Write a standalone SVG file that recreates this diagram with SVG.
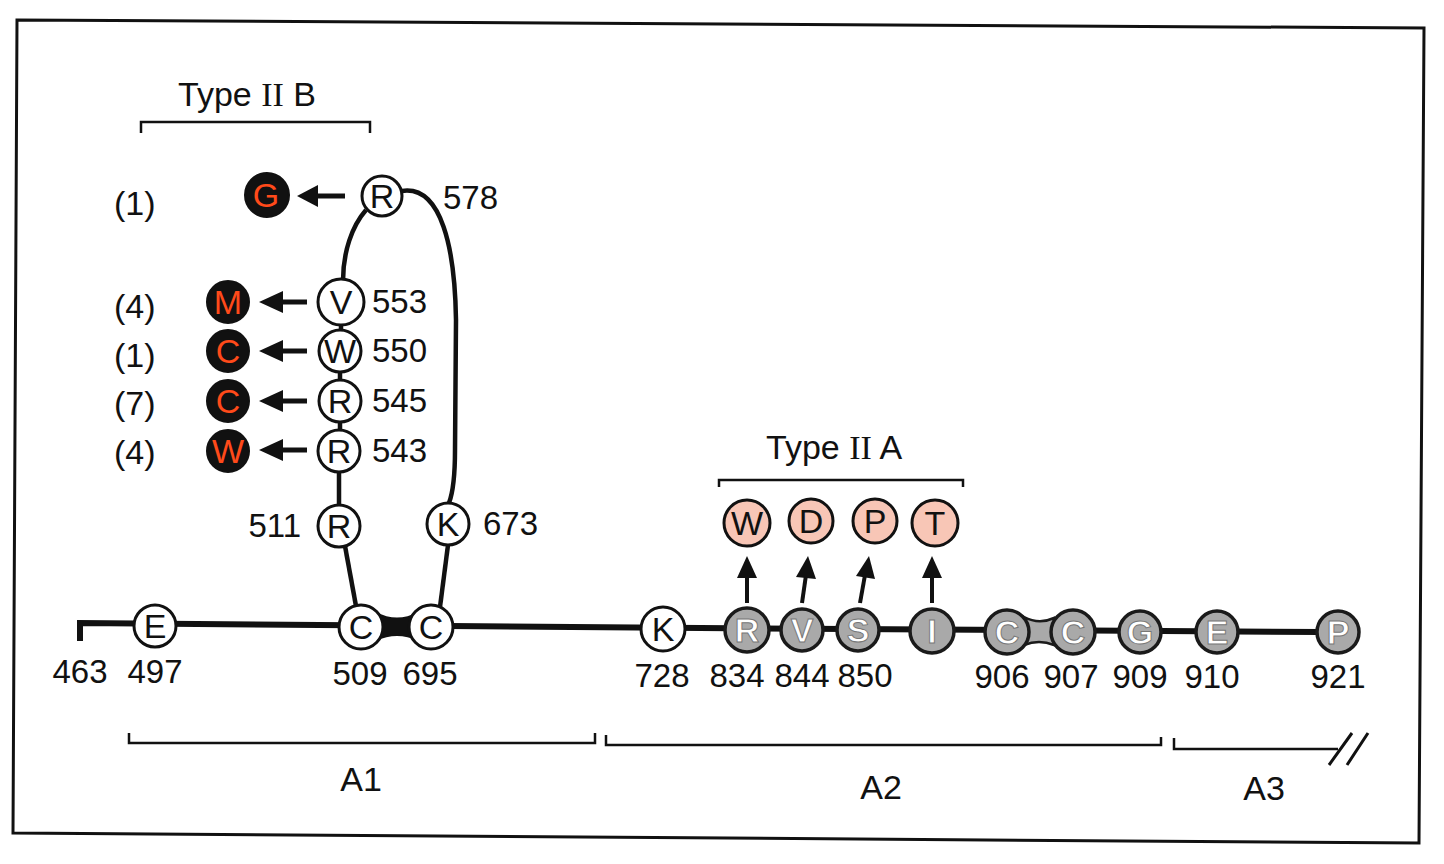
<svg xmlns="http://www.w3.org/2000/svg" width="1444" height="864" viewBox="0 0 1444 864">
<defs>
<style>
text{font-family:"Liberation Sans",Arial,sans-serif;fill:#111}
.lbl{font-size:34px}
.num{font-size:33px}
.let{font-size:34px;text-anchor:middle}
.ttl{font-size:34px}
.ser{font-family:"Liberation Serif","Times New Roman",serif}
.wc{fill:#fff;stroke:#111;stroke-width:3}
.bc{fill:#111;stroke:#111;stroke-width:2}
.gc{fill:#a9a9a9;stroke:#1a1a1a;stroke-width:3.5}
.pc{fill:#f8c6b6;stroke:#111;stroke-width:3}
.orange{fill:#ff4a1a}
.white{fill:#fff;stroke:#777;stroke-width:1;font-weight:bold}
.br{fill:none;stroke:#111;stroke-width:2.5}
.ln{fill:none;stroke:#111;stroke-width:4.5}
.arr{stroke:#111;stroke-width:5}
</style>
</defs>
<rect width="1444" height="864" fill="#fff"/>
<polygon points="17,20 1424,28 1419,843 13,833" fill="none" stroke="#111" stroke-width="3"/>

<g id="typeIIB">
<text class="ttl" x="178" y="106">Type <tspan class="ser">II</tspan> B</text>
<path class="br" d="M141,133 V122 H370 V133"/>
</g>
<g id="typeIIA">
<text class="ttl" x="766" y="459">Type <tspan class="ser">II</tspan> A</text>
<path class="br" d="M719,487 V480 H963 V487"/>
</g>

<g id="connectors">
<polyline fill="none" stroke="#111" stroke-width="6" points="80,641 80,623 450,626 700,628 1320,632"/>
<path class="ln" d="M343,281 C343,252 352,226 366,210"/>
<path class="ln" d="M402,191 C442,185 455,250 456,320 L455,450 C455,480 452,495 449,503"/>
<path class="ln" d="M341,324 L341,331 M340,372 L340,380 M340,422 L340,430 M339,472 L339,504"/>
<path class="ln" d="M345,546 L356,606"/>
<path class="ln" d="M448,545 L440,607"/>
<path d="M376,612 Q397,623 418,612 L418,641 Q397,631 376,641 Z" fill="#111"/>
<path d="M1024,617 Q1039,625 1054,618 L1054,645 Q1039,639 1024,645 Z" fill="#a9a9a9" stroke="#1a1a1a" stroke-width="2.5"/>
<g class="arr">
<line x1="345" y1="196" x2="313" y2="196"/>
<line x1="307" y1="302" x2="283" y2="302"/>
<line x1="307" y1="351" x2="283" y2="351"/>
<line x1="307" y1="401" x2="283" y2="401"/>
<line x1="307" y1="450" x2="283" y2="450"/>
</g>
<g fill="#111">
<polygon points="297,196 318,185 318,207"/>
<polygon points="259,302 283,291 283,313"/>
<polygon points="259,351 283,340 283,362"/>
<polygon points="259,401 283,390 283,412"/>
<polygon points="259,450 283,439 283,461"/>
</g>
<g class="arr" style="stroke-width:4">
<line x1="747" y1="603" x2="747" y2="575"/>
<line x1="802" y1="603" x2="806" y2="575"/>
<line x1="860" y1="603" x2="865" y2="575"/>
<line x1="932" y1="603" x2="932" y2="575"/>
</g>
<g fill="#111">
<polygon points="747,556 737,578 757,578"/>
<polygon points="808,556 796,577 816,579"/>
<polygon points="869,556 856,576 875,579"/>
<polygon points="932,556 922,578 942,578"/>
</g>
<path class="br" d="M129,733 V743 H595 V733"/>
<path class="br" d="M606,735 V745 H1161 V737"/>
<path class="br" d="M1174,738 V749 H1338"/>
<path class="br" d="M1329,765 L1352,733 M1347,765 L1368,733" style="stroke-width:3"/>
</g>

<g id="counts" class="lbl">
<text x="114" y="215">(1)</text>
<text x="114" y="318">(4)</text>
<text x="114" y="367">(1)</text>
<text x="114" y="415">(7)</text>
<text x="114" y="464">(4)</text>
</g>

<g id="n-R578"><circle class="wc" cx="382" cy="196" r="20"/><text class="let" x="382" y="208">R</text><text class="num" x="443" y="209">578</text></g>
<g id="n-V553"><circle class="wc" cx="341" cy="302" r="23"/><text class="let" x="341" y="314">V</text><text class="num" x="372" y="313">553</text></g>
<g id="n-W550"><circle class="wc" cx="340" cy="351" r="21"/><text class="let" x="340" y="363">W</text><text class="num" x="372" y="362">550</text></g>
<g id="n-R545"><circle class="wc" cx="340" cy="401" r="21"/><text class="let" x="340" y="413">R</text><text class="num" x="372" y="412">545</text></g>
<g id="n-R543"><circle class="wc" cx="339" cy="451" r="21"/><text class="let" x="339" y="463">R</text><text class="num" x="372" y="462">543</text></g>
<g id="n-R511"><circle class="wc" cx="339" cy="526" r="21"/><text class="let" x="339" y="538">R</text><text class="num" x="301" y="537" text-anchor="end">511</text></g>
<g id="n-K673"><circle class="wc" cx="448" cy="524" r="21"/><text class="let" x="448" y="536">K</text><text class="num" x="483" y="535">673</text></g>

<g id="m-G"><circle class="bc" cx="267" cy="195" r="22"/><text class="let orange" x="266" y="207">G</text></g>
<g id="m-M"><circle class="bc" cx="228" cy="302" r="21"/><text class="let orange" x="228" y="314">M</text></g>
<g id="m-C1"><circle class="bc" cx="228" cy="351" r="21"/><text class="let orange" x="228" y="363">C</text></g>
<g id="m-C2"><circle class="bc" cx="228" cy="401" r="21"/><text class="let orange" x="228" y="413">C</text></g>
<g id="m-W"><circle class="bc" cx="228" cy="451" r="21"/><text class="let orange" x="228" y="463">W</text></g>

<g id="l-463"><text class="num" x="80" y="683" text-anchor="middle">463</text></g>
<g id="n-E497"><circle class="wc" cx="155" cy="626" r="21"/><text class="let" x="155" y="638">E</text><text class="num" x="155" y="683" text-anchor="middle">497</text></g>
<g id="n-C509"><circle class="wc" cx="361" cy="627" r="22"/><text class="let" x="361" y="639">C</text><text class="num" x="360" y="685" text-anchor="middle">509</text></g>
<g id="n-C695"><circle class="wc" cx="431" cy="627" r="22"/><text class="let" x="431" y="639">C</text><text class="num" x="430" y="685" text-anchor="middle">695</text></g>
<g id="n-K728"><circle class="wc" cx="663" cy="629" r="22"/><text class="let" x="663" y="641">K</text><text class="num" x="662" y="687" text-anchor="middle">728</text></g>
<g id="n-R834"><circle class="gc" cx="747" cy="630" r="22"/><text class="let white" x="747" y="642">R</text><text class="num" x="737" y="687" text-anchor="middle">834</text></g>
<g id="n-V844"><circle class="gc" cx="802" cy="630" r="21"/><text class="let white" x="802" y="642">V</text><text class="num" x="802" y="687" text-anchor="middle">844</text></g>
<g id="n-S850"><circle class="gc" cx="858" cy="630" r="21"/><text class="let white" x="858" y="642">S</text><text class="num" x="865" y="687" text-anchor="middle">850</text></g>
<g id="n-I"><circle class="gc" cx="932" cy="631" r="22"/><text class="let white" x="932" y="643">I</text></g>
<g id="n-C906"><circle class="gc" cx="1007" cy="632" r="22"/><text class="let white" x="1007" y="644">C</text><text class="num" x="1002" y="688" text-anchor="middle">906</text></g>
<g id="n-C907"><circle class="gc" cx="1073" cy="632" r="22"/><text class="let white" x="1073" y="644">C</text><text class="num" x="1071" y="688" text-anchor="middle">907</text></g>
<g id="n-G909"><circle class="gc" cx="1140" cy="632" r="21"/><text class="let white" x="1140" y="644">G</text><text class="num" x="1140" y="688" text-anchor="middle">909</text></g>
<g id="n-E910"><circle class="gc" cx="1217" cy="632" r="21"/><text class="let white" x="1217" y="644">E</text><text class="num" x="1212" y="688" text-anchor="middle">910</text></g>
<g id="n-P921"><circle class="gc" cx="1338" cy="632" r="21"/><text class="let white" x="1338" y="644">P</text><text class="num" x="1338" y="688" text-anchor="middle">921</text></g>

<g id="a-W"><circle class="pc" cx="747" cy="523" r="23"/><text class="let" x="747" y="535">W</text></g>
<g id="a-D"><circle class="pc" cx="811" cy="521" r="22"/><text class="let" x="811" y="533">D</text></g>
<g id="a-P"><circle class="pc" cx="875" cy="521" r="22"/><text class="let" x="875" y="533">P</text></g>
<g id="a-T"><circle class="pc" cx="935" cy="523" r="23"/><text class="let" x="935" y="535">T</text></g>

<g id="domains" class="lbl">
<text x="361" y="791" text-anchor="middle">A1</text>
<text x="881" y="799" text-anchor="middle">A2</text>
<text x="1264" y="800" text-anchor="middle">A3</text>
</g>
</svg>
